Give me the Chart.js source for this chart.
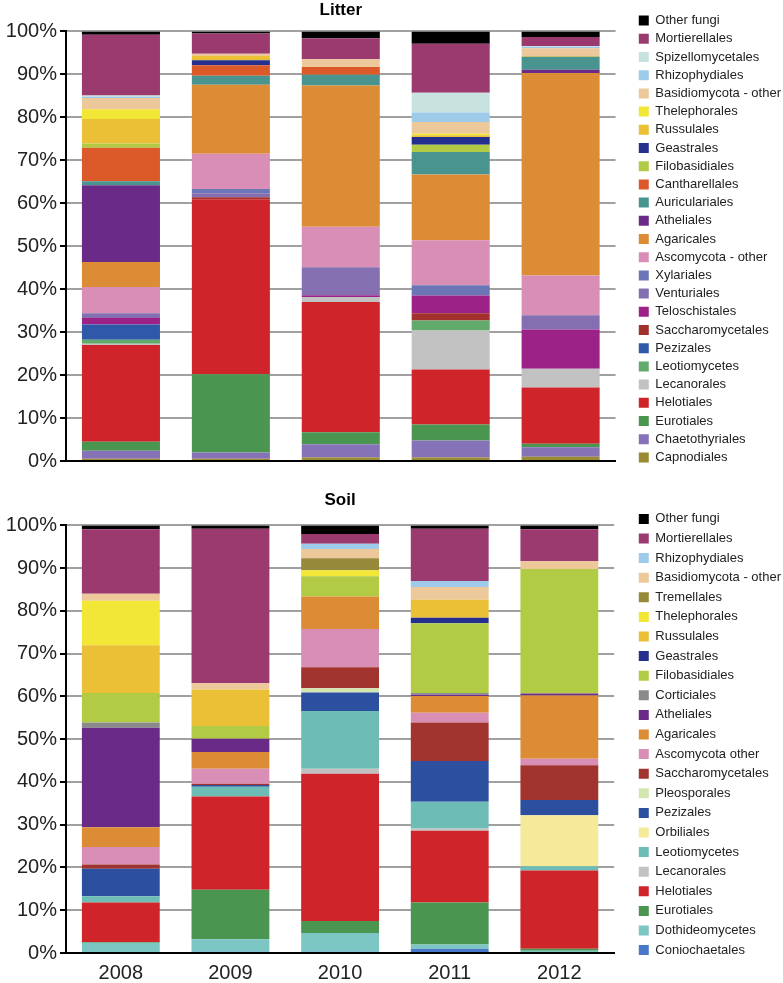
<!DOCTYPE html>
<html>
<head>
<meta charset="utf-8">
<script src="https://cdn.jsdelivr.net/npm/chart.js@4/dist/chart.umd.min.js"></script>
<style>
  body { margin: 0; background: #fff; }
  canvas { display: block; }
</style>
</head>
<body>
<canvas id="litterChart" width="783" height="478"></canvas>
<canvas id="soilChart" width="783" height="505"></canvas>
<script>
const years = ['2008', '2009', '2010', '2011', '2012'];

// Litter, % of reads (stack bottom first)
const litterCapnodiales       = [0.5, 0.5, 0.8, 0.8, 1.0];
const litterChaetothyriales   = [1.9, 1.5, 3.1, 4.0, 2.2];
const litterEurotiales        = [2.1, 18.2, 2.8, 3.7, 0.8];
const litterHelotiales        = [22.5, 40.7, 30.3, 12.8, 13.1];
const litterLecanorales       = [0.3, 0, 1.2, 9.1, 4.4];
const litterLeotiomycetes     = [0.9, 0, 0, 2.3, 0];
const litterPezizales         = [3.6, 0, 0, 0, 0];
const litterSaccharomycetales = [0, 0.5, 0, 1.7, 0];
const litterTeloschistales    = [1.5, 0, 0.4, 4.1, 9.1];
const litterVenturiales       = [1.1, 0.9, 6.5, 0, 3.3];
const litterXylariales        = [0, 1.0, 0, 2.4, 0];
const litterAscoOther         = [6.1, 8.2, 9.4, 10.5, 9.3];
const litterAgaricales        = [5.8, 16.1, 32.9, 15.3, 47.1];
const litterAtheliales        = [17.9, 0, 0, 0, 0.8];
const litterAuriculariales    = [0.9, 2.1, 2.5, 5.2, 3.0];
const litterCantharellales    = [7.8, 2.4, 1.8, 0, 0];
const litterFilobasidiales    = [1.0, 0, 0, 1.7, 0];
const litterGeastrales        = [0, 1.2, 0, 1.8, 0];
const litterRussulales        = [5.7, 1.0, 0, 0.4, 0.2];
const litterThelephorales     = [2.3, 0, 0, 0.4, 0];
const litterBasidioOther      = [2.6, 0.5, 1.8, 2.7, 1.8];
const litterRhizophydiales    = [0.3, 0, 0, 2.2, 0.3];
const litterSpizellomycetales = [0.3, 0, 0, 4.6, 0.2];
const litterMortierellales    = [14.1, 4.7, 4.9, 11.4, 2.1];
const litterOtherFungi        = [0.8, 0.5, 1.6, 2.9, 1.3];

// Soil, % of reads (stack bottom first)
const soilConiochaetales    = [0, 0.3, 0.3, 1.0, 0];
const soilDothideomycetes   = [2.4, 2.9, 4.4, 1.0, 0.5];
const soilEurotiales        = [0.2, 11.6, 2.8, 9.8, 0.5];
const soilHelotiales        = [9.2, 21.8, 34.4, 16.8, 18.3];
const soilLecanorales       = [0, 0, 1.2, 0.5, 0];
const soilLeotiomycetes     = [1.5, 2.3, 13.5, 6.3, 1.0];
const soilOrbiliales        = [0, 0, 0, 0, 11.9];
const soilPezizales         = [6.4, 0.4, 4.3, 9.5, 3.6];
const soilPleosporales      = [0, 0, 1.0, 0, 0];
const soilSaccharomycetales = [1.0, 0.3, 4.9, 9.0, 8.1];
const soilAscoOther         = [4.1, 3.5, 9.0, 2.3, 1.5];
const soilAgaricales        = [4.6, 3.9, 7.6, 3.9, 14.8];
const soilAtheliales        = [23.3, 3.1, 0, 0.3, 0.5];
const soilCorticiales       = [1.2, 0, 0, 0.4, 0];
const soilFilobasidiales    = [6.9, 3.0, 4.7, 16.3, 29.1];
const soilGeastrales        = [0, 0, 0, 1.3, 0];
const soilRussulales        = [11.2, 8.5, 0, 4.2, 0];
const soilThelephorales     = [10.4, 0, 1.4, 0, 0];
const soilTremellales       = [0, 0, 2.8, 0, 0];
const soilBasidioOther      = [1.6, 1.5, 2.2, 3.0, 1.8];
const soilRhizophydiales    = [0, 0, 1.2, 1.4, 0];
const soilMortierellales    = [15.1, 36.1, 2.3, 12.2, 7.5];
const soilOtherFungi        = [0.9, 0.8, 2.0, 0.8, 0.9];

const litterSeries = [
    ['Capnodiales', litterCapnodiales, '#9a8a32'],
    ['Chaetothyriales', litterChaetothyriales, '#8672b6'],
    ['Eurotiales', litterEurotiales, '#4a9650'],
    ['Helotiales', litterHelotiales, '#d0242b'],
    ['Lecanorales', litterLecanorales, '#c2c2c2'],
    ['Leotiomycetes', litterLeotiomycetes, '#62aa6c'],
    ['Pezizales', litterPezizales, '#2f58a8'],
    ['Saccharomycetales', litterSaccharomycetales, '#a2302c'],
    ['Teloschistales', litterTeloschistales, '#9c2288'],
    ['Venturiales', litterVenturiales, '#8470b0'],
    ['Xylariales', litterXylariales, '#6a76b6'],
    ['Ascomycota - other', litterAscoOther, '#d98fb5'],
    ['Agaricales', litterAgaricales, '#dd8c36'],
    ['Atheliales', litterAtheliales, '#6a2b88'],
    ['Auriculariales', litterAuriculariales, '#4a9490'],
    ['Cantharellales', litterCantharellales, '#dc5a2a'],
    ['Filobasidiales', litterFilobasidiales, '#b2cb45'],
    ['Geastrales', litterGeastrales, '#252f8e'],
    ['Russulales', litterRussulales, '#ebbf36'],
    ['Thelephorales', litterThelephorales, '#f2e636'],
    ['Basidiomycota - other', litterBasidioOther, '#ecc89a'],
    ['Rhizophydiales', litterRhizophydiales, '#9ecbea'],
    ['Spizellomycetales', litterSpizellomycetales, '#c8e2e0'],
    ['Mortierellales', litterMortierellales, '#9b3a6f'],
    ['Other fungi', litterOtherFungi, '#000000']
];

const soilSeries = [
    ['Coniochaetales', soilConiochaetales, '#4a78c8'],
    ['Dothideomycetes', soilDothideomycetes, '#7cc6c4'],
    ['Eurotiales', soilEurotiales, '#4a9650'],
    ['Helotiales', soilHelotiales, '#d0242b'],
    ['Lecanorales', soilLecanorales, '#c2c2c2'],
    ['Leotiomycetes', soilLeotiomycetes, '#6dbdb6'],
    ['Orbiliales', soilOrbiliales, '#f5e99a'],
    ['Pezizales', soilPezizales, '#2c4fa0'],
    ['Pleosporales', soilPleosporales, '#d4e6b0'],
    ['Saccharomycetales', soilSaccharomycetales, '#a2342f'],
    ['Ascomycota other', soilAscoOther, '#d98fb5'],
    ['Agaricales', soilAgaricales, '#dd8c36'],
    ['Atheliales', soilAtheliales, '#6a2b88'],
    ['Corticiales', soilCorticiales, '#8a8a8a'],
    ['Filobasidiales', soilFilobasidiales, '#b2cb45'],
    ['Geastrales', soilGeastrales, '#252f8e'],
    ['Russulales', soilRussulales, '#ebbf36'],
    ['Thelephorales', soilThelephorales, '#f2e636'],
    ['Tremellales', soilTremellales, '#968a3a'],
    ['Basidiomycota - other', soilBasidioOther, '#ecc89a'],
    ['Rhizophydiales', soilRhizophydiales, '#9ecbea'],
    ['Mortierellales', soilMortierellales, '#9b3a6f'],
    ['Other fungi', soilOtherFungi, '#000000']
];

const FONT = '"Liberation Sans", Arial, Helvetica, sans-serif';

function makeChart(id, title, series, showYears, titlePad) {
    new Chart(document.getElementById(id), {
        type: 'bar',
        data: {
            labels: years,
            datasets: series.map(s => ({
                label: s[0],
                data: s[1],
                backgroundColor: s[2],
                borderWidth: 0,
                categoryPercentage: 1,
                barPercentage: 0.71
            }))
        },
        options: {
            responsive: false,
            animation: false,
            layout: { padding: { right: -8, bottom: showYears ? -8 : 0 } },
            plugins: {
                title: {
                    display: true, text: title, fullSize: false, color: '#000',
                    font: { family: FONT, size: 17, weight: 'bold' },
                    padding: titlePad
                },
                legend: {
                    position: 'right', reverse: true, maxWidth: 180,
                    labels: {
                        boxWidth: 10, boxHeight: 10, padding: showYears ? 6.6 : 5.2,
                        color: '#222', font: { family: FONT, size: 13 }
                    }
                },
                tooltip: { enabled: false }
            },
            scales: {
                x: {
                    stacked: true,
                    grid: { display: false, drawTicks: false, tickLength: 0 },
                    border: { color: '#000', width: 2 },
                    ticks: { display: showYears, color: '#222', padding: 8, font: { family: FONT, size: 20 } },
                    afterFit: s => { s.height = showYears ? 38 : 17; }
                },
                y: {
                    stacked: true, min: 0, max: 100,
                    grid: { color: '#a0a0a0', lineWidth: 2, tickLength: 6, tickColor: '#000' },
                    border: { color: '#000', width: 2 },
                    ticks: { stepSize: 10, padding: 3, color: '#222', font: { family: FONT, size: 20 }, callback: v => v + '%' },
                    afterFit: s => { s.width = 66; }
                },
                gap: {
                    type: 'linear', position: 'right',
                    grid: { display: false }, border: { display: false }, ticks: { display: false },
                    afterFit: s => { s.width = 18; }
                }
            }
        }
    });
}

makeChart('litterChart', 'Litter', litterSeries, false, { top: 0, bottom: 11 });
makeChart('soilChart', 'Soil', soilSeries, true, { top: 12, bottom: 15 });
</script>
</body>
</html>
